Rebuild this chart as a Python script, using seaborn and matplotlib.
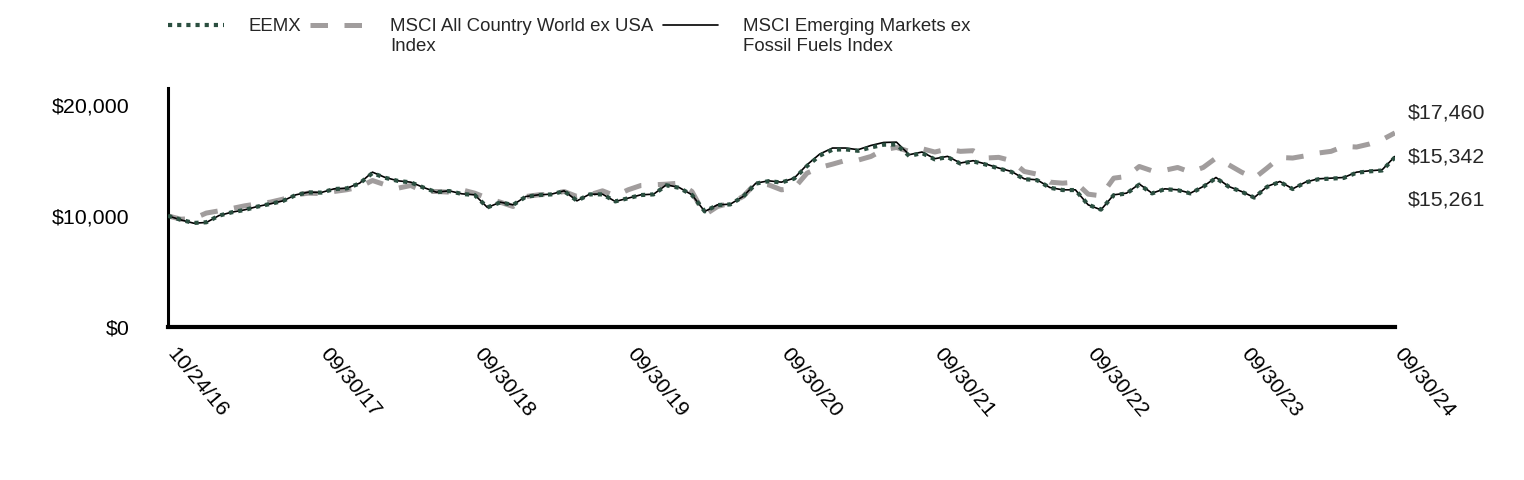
import numpy as np
import pandas as pd
import matplotlib
matplotlib.use("Agg")
import matplotlib.pyplot as plt
from matplotlib.legend_handler import HandlerLine2D
from matplotlib.ticker import FuncFormatter
from matplotlib.transforms import ScaledTranslation
import seaborn as sns

# months since inception (10/24/16 -> 09/30/24)
months = np.arange(97)

eemx = [
    10000, 9650, 9360, 9420, 10020, 10320, 10530, 10830, 11070, 11340,
    11870, 12110, 12090, 12410, 12470, 12920, 13850, 13420, 13140, 13010,
    12540, 12120, 12230, 11970, 11870, 10760, 11210, 10980, 11720, 11870,
    11930, 12230, 11360, 11930, 11930, 11300, 11580, 11870, 11930, 12750,
    12520, 11880, 10400, 10970, 11030, 11720, 12900, 13120, 13000, 13350,
    14480, 15420, 15950, 15980, 15850, 16150, 16400, 16420, 15380, 15650,
    15080, 15280, 14700, 14900, 14610, 14260, 13950, 13300, 13210, 12530,
    12320, 12320, 11000, 10560, 11860, 12010, 12810, 12020, 12400, 12310,
    12020, 12610, 13400, 12620, 12170, 11640, 12610, 13050, 12410, 13000,
    13290, 13350, 13410, 13880, 14000, 14080, 15261,
]

acwi_ex_usa = [
    10000, 9700, 9750, 10250, 10450, 10660, 10900, 11080, 11230, 11500,
    11890, 12040, 12000, 12190, 12350, 12590, 13180, 12790, 12490, 12730,
    12190, 12190, 12130, 12340, 12040, 11590, 11230, 10840, 11740, 11890,
    11950, 12190, 11740, 11890, 12250, 11800, 12340, 12730, 12790, 12850,
    12940, 12190, 10090, 10840, 11140, 11740, 12940, 12790, 12340, 12490,
    13840, 14350, 14650, 14980, 15010, 15340, 15950, 16150, 15800, 16040,
    15740, 16010, 15800, 15860, 15200, 15260, 14960, 13990, 13750, 13030,
    12940, 13030, 11950, 11800, 13390, 13540, 14440, 14050, 14100, 14350,
    13930, 14350, 15200, 14590, 13930, 13390, 14300, 15250, 15200, 15400,
    15650, 15800, 16250, 16190, 16460, 16850, 17460,
]

em_ex_fossil = [
    10000, 9640, 9340, 9400, 10030, 10330, 10540, 10840, 11080, 11350,
    11890, 12130, 12100, 12430, 12490, 12940, 13930, 13450, 13150, 13030,
    12550, 12130, 12250, 11980, 11890, 10750, 11230, 10990, 11740, 11890,
    11950, 12250, 11350, 11950, 11950, 11290, 11590, 11890, 11950, 12790,
    12550, 11890, 10390, 10990, 11050, 11740, 12940, 13150, 13030, 13390,
    14590, 15560, 16100, 16100, 15950, 16330, 16600, 16630, 15500, 15740,
    15140, 15350, 14750, 14960, 14660, 14300, 13990, 13330, 13240, 12550,
    12340, 12340, 10990, 10540, 11890, 12040, 12860, 12040, 12430, 12340,
    12040, 12640, 13450, 12640, 12190, 11650, 12640, 13090, 12430, 13030,
    13330, 13390, 13450, 13930, 14050, 14140, 15342,
]

tick_months = [0, 12, 24, 36, 48, 60, 72, 84, 96]
tick_labels = ["10/24/16", "09/30/17", "09/30/18", "09/30/19", "09/30/20",
               "09/30/21", "09/30/22", "09/30/23", "09/30/24"]

names = ["EEMX", "MSCI All Country World ex USA\nIndex",
         "MSCI Emerging Markets ex\nFossil Fuels Index"]

df = pd.DataFrame({"month": months, "eemx": eemx,
                   "acwi": acwi_ex_usa, "fossil": em_ex_fossil})

sns.set_style("white")
plt.rcParams["font.family"] = ["Liberation Sans", "DejaVu Sans"]

fig = plt.figure(figsize=(15.24, 4.8), dpi=100)
ax = fig.add_axes([0.1102, 0.3187, 0.8051, 0.498])

green = "#2b4f40"
gray = "#a19d9d"

sns.lineplot(data=df, x="month", y="acwi", ax=ax, color=gray, lw=3.6,
             label=names[1], zorder=2)
sns.lineplot(data=df, x="month", y="fossil", ax=ax, color="black", lw=1.2,
             label=names[2], zorder=3)
sns.lineplot(data=df, x="month", y="eemx", ax=ax, color=green, lw=3.0,
             label=names[0], zorder=4)
lines = ax.get_lines()
lines[0].set_dashes((3.5, 3.3))
lines[2].set_dashes((1, 1.2))

ax.set_xlim(0, 96)
ax.set_ylim(0, 21500)
ax.set_xticks(tick_months)
ax.set_xticklabels(tick_labels, rotation=-50, ha="left", va="top",
                   rotation_mode="anchor")
ax.set_yticks([0, 10000, 20000])
ax.yaxis.set_major_formatter(FuncFormatter(lambda v, p: f"${v:,.0f}"))
ax.set_xlabel("")
ax.set_ylabel("")
ax.tick_params(axis="both", labelsize=15.4, length=5.5, width=1.5,
               direction="out", color="black", labelcolor="black")
ax.tick_params(axis="x", pad=7)
ax.tick_params(axis="y", pad=22)
# nudge the slanted date labels so they start at the tick
shift = ScaledTranslation(7 / 72, 0, fig.dpi_scale_trans)
for lbl in ax.get_xticklabels():
    lbl.set_transform(lbl.get_transform() + shift)
for s in ["top", "right"]:
    ax.spines[s].set_visible(False)
ax.spines["left"].set_linewidth(2.2)
ax.spines["bottom"].set_linewidth(3)
ax.spines["left"].set_color("black")
ax.spines["bottom"].set_color("black")

# end values at the right edge
ends = [acwi_ex_usa[-1], em_ex_fossil[-1], eemx[-1]]
for v, yy in zip(ends, [0.895, 0.711, 0.531]):
    ax.text(1.0106, yy, f"${v:,.0f}", transform=ax.transAxes, fontsize=15.4,
            ha="left", va="center")


class TopHandler(HandlerLine2D):
    # put the key next to the first text line
    def create_artists(self, legend, orig_handle, xdescent, ydescent,
                       width, height, fontsize, trans):
        arts = super().create_artists(legend, orig_handle, xdescent, ydescent,
                                      width, height, fontsize, trans)
        for a in arts:
            a.set_ydata(np.asarray(a.get_ydata()) + 0.6 * fontsize)
        return arts


handles = [lines[2], lines[0], lines[1]]
labels = ["EEMX\n ", names[1], names[2]]
ax.legend(handles, labels, loc="upper left", ncol=3, frameon=False,
          bbox_to_anchor=(168 / 1524, 1 - 18 / 480),
          bbox_transform=fig.transFigure, fontsize=13.4, handlelength=3.0,
          handletextpad=1.3, columnspacing=0.5, borderpad=0, borderaxespad=0,
          handler_map={l: TopHandler() for l in handles})

fig.savefig("out.png", dpi=100)
